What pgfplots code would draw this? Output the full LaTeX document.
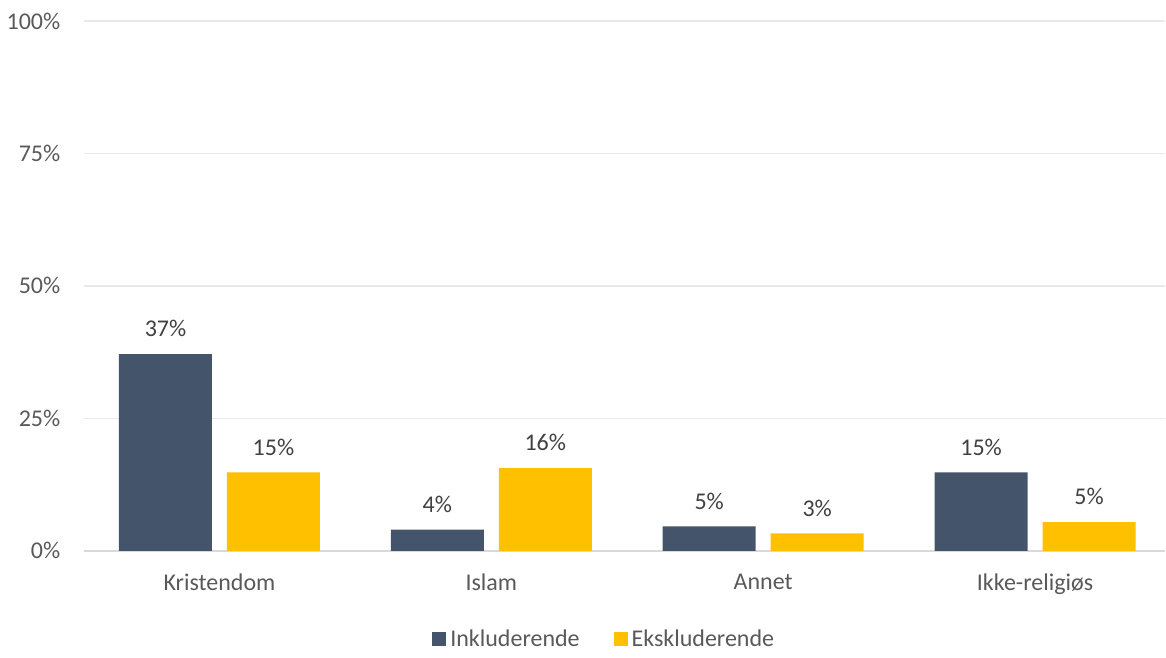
\documentclass[border=0pt]{standalone}
\usepackage{fontspec}
\setmainfont{Carlito}
\usepackage{pgfplots}
\pgfplotsset{compat=1.18}
\definecolor{dblue}{HTML}{44546A}
\definecolor{gold}{HTML}{FFC000}
\definecolor{txt}{HTML}{595959}
\definecolor{gridc}{HTML}{E9E9E9}
\definecolor{axl}{HTML}{D9D9D9}
\begin{document}
\begin{tikzpicture}
\begin{axis}[
  scale only axis,
  width=540.5pt, height=265pt,
  ybar=7.5pt, bar width=46.5pt,
  xmin=-0.497, xmax=3.478,
  ymin=0, ymax=100,
  xtick={0,1,2,3},
  xticklabels={Kristendom,Islam,Annet,Ikke-religiøs},
  ytick={0,25,50,75,100},
  yticklabel={\pgfmathprintnumber{\tick}\%},
  /pgf/number format/assume math mode=true,
  font=\fontsize{12pt}{14pt}\selectfont,
  ticklabel style={text=txt},
  yticklabel style={xshift=-8.5pt},
  xticklabel style={yshift=-8pt},
  major tick length=0pt,
  xmajorgrids=false,
  ymajorgrids, y grid style={draw=gridc, line width=0.8pt},
  axis line style={draw=none},
  axis x line*=bottom, axis y line*=left,
  separate axis lines,
  x axis line style={draw=axl, line width=1pt},
  nodes near coords={\pgfmathprintnumber[fixed,precision=0]{\pgfplotspointmeta}\%},
  nodes near coords style={text=black!75, yshift=5pt, font=\fontsize{12pt}{14pt}\selectfont, /pgf/number format/assume math mode=true},
  legend style={at={(0.482,-0.167)}, anchor=center, draw=none, legend columns=2,
    font=\fontsize{12pt}{14pt}\selectfont, text=txt,
    /tikz/every even column/.append style={column sep=15pt}},
  legend image code/.code={\fill[#1] (0pt,-3.5pt) rectangle (7pt,3.5pt);},
  clip=false,
]
\addplot[fill=dblue, draw=none] coordinates {(0,37.1) (1,4.0) (2,4.6) (3,14.8)};
\addplot[fill=gold, draw=none] coordinates {(0,14.8) (1,15.6) (2,3.3) (3,5.4)};
\legend{Inkluderende,Ekskluderende}
\end{axis}
\path ([yshift=3pt]current bounding box.north);
\end{tikzpicture}
\end{document}
